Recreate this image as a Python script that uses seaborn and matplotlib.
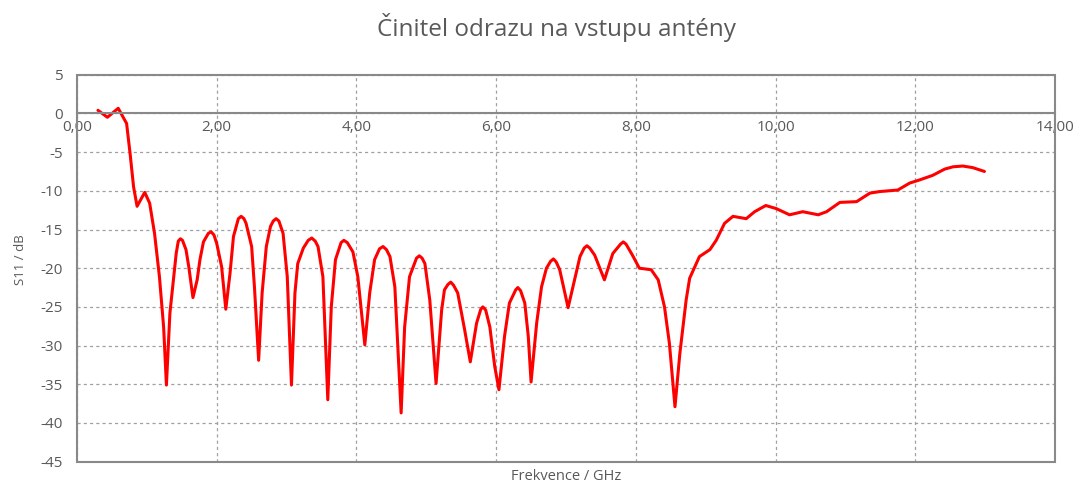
import matplotlib
matplotlib.use("Agg")
import matplotlib.pyplot as plt
import seaborn as sns
import pandas as pd
from matplotlib.patches import Rectangle

freq_ghz = [0.30, 0.435, 0.59, 0.71, 0.76, 0.81, 0.86, 0.97, 1.04, 1.11, 1.18, 1.24, 1.28,
            1.33, 1.38, 1.42, 1.45, 1.48, 1.51, 1.56, 1.60, 1.66, 1.72, 1.76, 1.81, 1.88, 1.92,
            1.96, 2.00, 2.07, 2.13, 2.19, 2.24, 2.31, 2.35, 2.39, 2.42, 2.50, 2.54, 2.60, 2.65,
            2.71, 2.77, 2.81, 2.85, 2.89, 2.95, 3.01, 3.07, 3.12, 3.16, 3.24, 3.31, 3.36, 3.41,
            3.45, 3.52, 3.59, 3.64, 3.70, 3.78, 3.82, 3.87, 3.95, 4.02, 4.12, 4.19, 4.26, 4.33,
            4.38, 4.43, 4.48, 4.55, 4.64, 4.69, 4.76, 4.86, 4.90, 4.94, 4.98, 5.05, 5.14, 5.22,
            5.26, 5.31, 5.35, 5.39, 5.45, 5.55, 5.63, 5.72, 5.78, 5.81, 5.85, 5.91, 5.98, 6.04,
            6.12, 6.19, 6.28, 6.31, 6.35, 6.41, 6.46, 6.50, 6.58, 6.65, 6.72, 6.78, 6.82, 6.86,
            6.91, 7.03, 7.10, 7.20, 7.26, 7.30, 7.34, 7.41, 7.55, 7.67, 7.78, 7.82, 7.86, 7.95,
            8.05, 8.22, 8.32, 8.41, 8.48, 8.56, 8.63, 8.72, 8.77, 8.91, 9.06, 9.15, 9.27, 9.39,
            9.58, 9.70, 9.86, 10.01, 10.20, 10.39, 10.61, 10.73, 10.92, 11.16, 11.35, 11.49,
            11.75, 11.92, 12.06, 12.25, 12.42, 12.54, 12.68, 12.82, 12.99]
s11_db = [0.4, -0.5, 0.66, -1.3, -5.2, -9.5, -12.0, -10.2, -11.6, -15.5, -21.1, -27.6, -35.1,
          -25.8, -21.5, -18.1, -16.5, -16.2, -16.4, -17.6, -19.8, -23.8, -21.5, -18.9, -16.6, -15.5, -15.3,
          -15.7, -16.8, -19.8, -25.3, -20.7, -15.9, -13.6, -13.3, -13.6, -14.2, -17.2, -22.4, -31.9, -23.2,
          -17.2, -14.6, -13.9, -13.6, -13.9, -15.5, -21.1, -35.1, -23.2, -19.4, -17.4, -16.4, -16.1, -16.5,
          -17.2, -21.1, -37.0, -25.0, -18.9, -16.7, -16.4, -16.7, -17.9, -21.1, -29.9, -23.2, -18.9, -17.5,
          -17.2, -17.6, -18.5, -22.4, -38.7, -27.6, -21.1, -18.7, -18.4, -18.7, -19.4, -24.1, -34.9, -25.4,
          -22.8, -22.1, -21.8, -22.2, -23.2, -28.0, -32.1, -27.1, -25.3, -25.0, -25.4, -27.6, -32.7, -35.7,
          -28.8, -24.5, -22.8, -22.5, -22.9, -24.5, -28.8, -34.7, -27.1, -22.4, -20.0, -19.1, -18.8, -19.2,
          -20.2, -25.1, -22.4, -18.5, -17.4, -17.1, -17.4, -18.3, -21.5, -18.1, -16.9, -16.6, -16.9, -18.3,
          -20.0, -20.2, -21.5, -25.0, -29.7, -37.9, -31.0, -24.1, -21.3, -18.5, -17.6, -16.4, -14.2, -13.3,
          -13.6, -12.7, -11.9, -12.3, -13.1, -12.7, -13.1, -12.7, -11.5, -11.4, -10.3, -10.1,
          -9.9, -9.0, -8.6, -8.0, -7.2, -6.9, -6.8, -7.0, -7.5]

x_ticks = [0, 2, 4, 6, 8, 10, 12, 14]
x_tick_labels = ["0,00", "2,00", "4,00", "6,00", "8,00", "10,00", "12,00", "14,00"]
y_ticks = [5, 0, -5, -10, -15, -20, -25, -30, -35, -40, -45]

title = "Činitel odrazu na vstupu antény"
x_label = "Frekvence / GHz"
y_label = "S11 / dB"

df = pd.DataFrame({"f": freq_ghz, "s": s11_db})

sns.set_theme(style="white")
plt.rcParams["font.family"] = ["Open Sans", "DejaVu Sans"]

text_col = "#595959"
grid_col = "#a0a0a0"
frame_col = "#898989"

fig = plt.figure(figsize=(10.79, 4.88), dpi=100)
ax = fig.add_axes([77/1079, 1 - 461.7/488, (1055-77)/1079, (461.7-74.7)/488])

sns.lineplot(data=df, x="f", y="s", ax=ax, color="#ff0000", linewidth=2.2, sort=False)

ax.set_xlim(0, 14)
ax.set_ylim(-45, 5)
ax.set_xticks(x_ticks)
ax.set_xticklabels(x_tick_labels)
ax.set_yticks(y_ticks)
ax.set_yticklabels([str(v) for v in y_ticks])

ax.grid(True, linestyle=(0, (2.5, 2.5)), color=grid_col, linewidth=0.9)
ax.set_axisbelow(True)

for side in ["top", "right", "left"]:
    ax.spines[side].set_visible(False)
ax.spines["bottom"].set_position(("data", 0))
ax.spines["bottom"].set_color(frame_col)
ax.spines["bottom"].set_linewidth(1.5)
ax.add_patch(Rectangle((0, 0), 1, 1, transform=ax.transAxes, fill=False,
                       edgecolor=frame_col, linewidth=1.5, clip_on=False, zorder=5))

ax.tick_params(axis="both", length=0, labelsize=11, labelcolor=text_col)
ax.tick_params(axis="x", pad=5)
ax.tick_params(axis="y", pad=10)

ax.set_xlabel("")
ax.set_ylabel("")
fig.text(566/1079, 1 - 476/488, x_label, ha="center", va="center", fontsize=10.5, color=text_col)
fig.text(20/1079, 1 - 260/488, y_label, ha="center", va="center", rotation=90, fontsize=9.5, color=text_col)
fig.text(556/1079, 1 - 27/488, title, ha="center", va="center", fontsize=17.5, color=text_col)

fig.savefig("out.png", dpi=100, facecolor="white")
